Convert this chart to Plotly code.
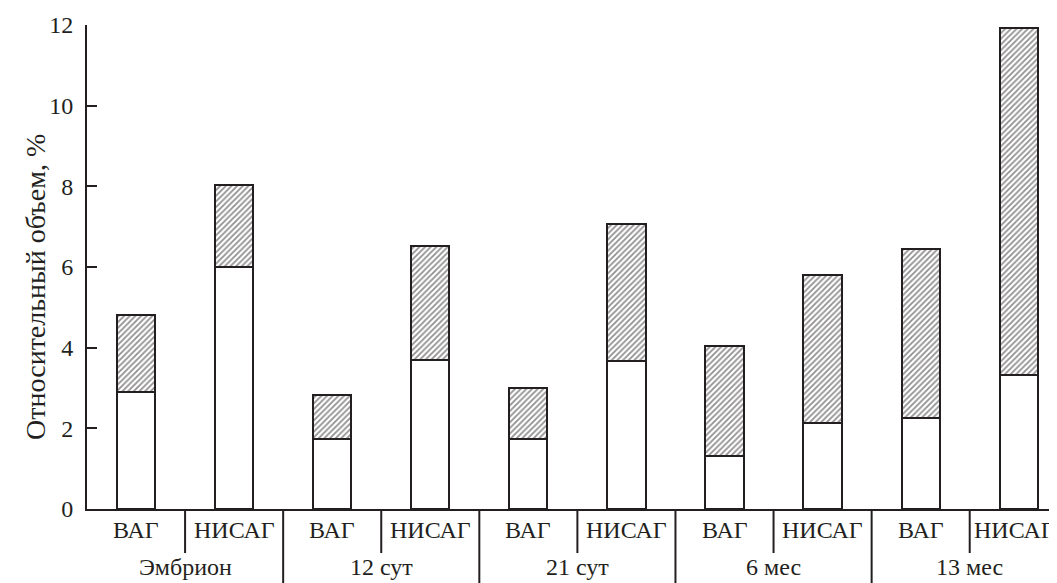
import plotly.graph_objects as go

# ---- data ----
groups = ["Эмбрион", "12 сут", "21 сут", "6 мес", "13 мес"]
subgroups = ["ВАГ", "НИСАГ"]
lower_values = [2.9, 6.0, 1.73, 3.69, 1.73, 3.68, 1.32, 2.12, 2.25, 3.32]
total_values = [4.81, 8.03, 2.83, 6.52, 2.99, 7.06, 4.04, 5.81, 6.44, 11.92]
y_ticks = [0, 2, 4, 6, 8, 10, 12]
y_title = "Относительный объем, %"

# ---- derived ----
x_pos = list(range(len(lower_values)))
tick_text = [s for g in groups for s in subgroups]
upper_values = [round(t - l, 3) for t, l in zip(total_values, lower_values)]

INK = "#231f20"
FONT = "Liberation Serif, Times New Roman, serif"
FS = 24

fig = go.Figure()
fig.add_trace(go.Bar(
    x=x_pos, y=lower_values, width=0.39,
    marker=dict(color="white", line=dict(color=INK, width=2)),
    showlegend=False, hoverinfo="y",
))
fig.add_trace(go.Bar(
    x=x_pos, y=upper_values, width=0.39,
    marker=dict(color="white", line=dict(color=INK, width=2),
                pattern=dict(shape="/", fgcolor=INK, bgcolor="white",
                             size=4, solidity=0.45)),
    showlegend=False, hoverinfo="y",
))

# subgroup labels (first row under the axis)
for xi, lab in zip(x_pos, tick_text):
    fig.add_annotation(x=xi, xref="x", y=-0.044, yref="paper",
                       yanchor="middle", xanchor="center",
                       xshift=-4 if xi == x_pos[-1] else 0,
                       text=lab, showarrow=False,
                       font=dict(family=FONT, size=FS, color=INK))

n_groups = len(groups)
n_sub = len(subgroups)
for gi in range(n_groups):
    fig.add_shape(type="line", xref="x", yref="paper",
                  x0=gi * n_sub + 0.5, x1=gi * n_sub + 0.5, y0=0, y1=-0.091,
                  line=dict(color=INK, width=2))
    xb = gi * n_sub + n_sub - 0.5
    fig.add_shape(type="line", xref="x", yref="paper",
                  x0=xb, x1=xb, y0=0, y1=-0.17,
                  line=dict(color=INK, width=2))
    fig.add_annotation(x=gi * n_sub + (n_sub - 1) / 2, xref="x",
                       y=-0.12, yref="paper", yanchor="middle",
                       text=groups[gi], showarrow=False,
                       font=dict(family=FONT, size=FS, color=INK))

fig.add_annotation(x=-0.053, xref="paper", y=0.458, yref="paper",
                   text=y_title, textangle=-90, showarrow=False,
                   xanchor="center", yanchor="middle",
                   font=dict(family=FONT, size=28, color=INK))

# page body has an 8px margin: figure sits at (8, 8) in the window
fig.update_layout(
    width=1049, height=575,
    margin=dict(l=79, r=0, t=17, b=74),
    barmode="stack",
    plot_bgcolor="white", paper_bgcolor="white",
    font=dict(family=FONT, size=FS, color=INK),
    xaxis=dict(range=[-0.5, 9.39], tickvals=x_pos, showticklabels=False,
               ticks="", showline=True, linecolor=INK, linewidth=2,
               showgrid=False, zeroline=False),
    yaxis=dict(range=[0, 12], tickvals=y_ticks, ticks="inside", ticklen=10,
               tickwidth=2, tickcolor=INK, showline=True, linecolor=INK,
               linewidth=2, showgrid=False, zeroline=False,
               ticklabelstandoff=7,
               tickfont=dict(family=FONT, size=FS, color=INK)),
)

fig.write_html("out.html")
